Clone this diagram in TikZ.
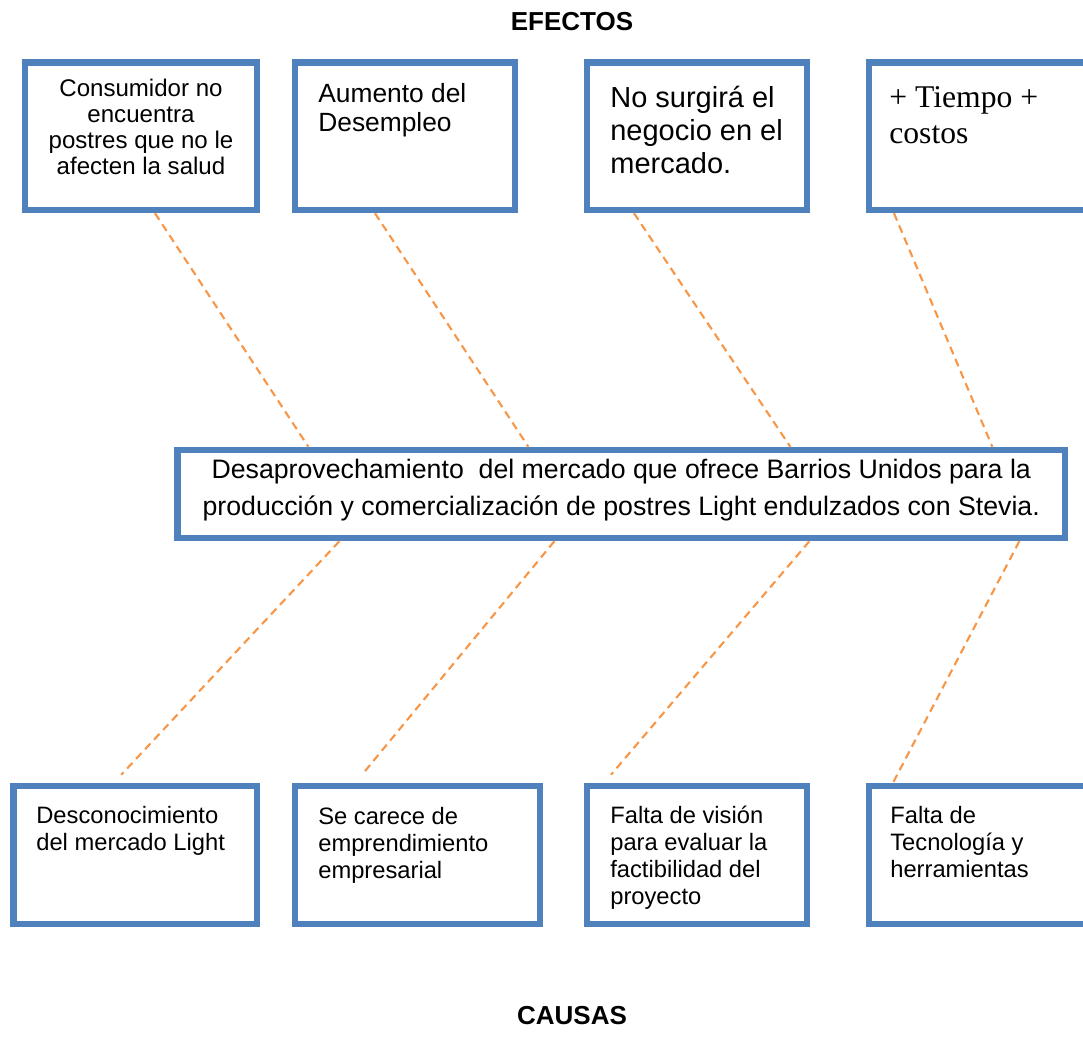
\documentclass[tikz,border=0pt]{standalone}
\usepackage{fontspec}
\setmainfont{Liberation Sans}
\newfontfamily\timesfont{Liberation Serif}
\usetikzlibrary{calc}
\definecolor{boxblue}{HTML}{4F81BD}
\definecolor{dashorange}{HTML}{F79646}

\begin{document}
\begin{tikzpicture}[x=0.02cm, y=-0.02cm,
  box/.style={draw=boxblue, line width=3.7pt, fill=white, inner sep=0pt},
  link/.style={draw=dashorange, line width=1.2pt, dash pattern=on 4.5pt off 3pt},
  txt/.style={anchor=north west, inner sep=0pt, align=left},
  title/.style={font=\fontsize{14.8}{17}\selectfont\bfseries}]
  \useasboundingbox (0,0) rectangle (1083,1055);

  \node[title] (efectos) at (572,22) {EFECTOS};
  \node[title] (causas) at (572,1016) {CAUSAS};

  \node[box, minimum width=4.64cm, minimum height=2.95cm] (e1) at (141,136.25) {};
  \node[box, minimum width=4.4cm, minimum height=2.95cm] (e2) at (405,136.25) {};
  \node[box, minimum width=4.4cm, minimum height=2.95cm] (e3) at (697,136.25) {};
  \node[box, minimum width=4.4cm, minimum height=2.95cm] (e4) at (979,136.25) {};
  \node[txt, anchor=north, align=center, font=\fontsize{13.7}{14.8}\selectfont] (e1t) at (141,79) {Consumidor no\\encuentra\\postres que no le\\afecten la salud};
  \node[txt, font=\fontsize{15}{16.5}\selectfont] (e2t) at (318,83) {Aumento del\\Desempleo};
  \node[txt, font=\fontsize{16.5}{18.8}\selectfont] (e3t) at (610,86) {No surgirá el\\negocio en el\\mercado.};
  \node[txt, font=\fontsize{18}{20.6}\timesfont] (e4t) at (889,86) {+ Tiempo +\\costos};

  \node[box, minimum width=17.75cm, minimum height=1.76cm] (p) at (621.25,494) {};
  \node[align=center, inner sep=0pt, font=\fontsize{15.2}{20.6}\selectfont] (pt) at (621.25,490) {Desaprovechamiento\ \ del mercado que ofrece Barrios Unidos para la\\producción y comercialización de postres Light endulzados con Stevia.};

  \node[box, minimum width=4.87cm, minimum height=2.76cm] (c1) at (135.25,855) {};
  \node[box, minimum width=4.9cm, minimum height=2.76cm] (c2) at (417.5,855) {};
  \node[box, minimum width=4.4cm, minimum height=2.76cm] (c3) at (697,855) {};
  \node[box, minimum width=4.4cm, minimum height=2.76cm] (c4) at (979,855) {};
  \node[txt, font=\fontsize{13.5}{15.4}\selectfont] (c1t) at (36,806) {Desconocimiento\\del mercado Light};
  \node[txt, font=\fontsize{13.5}{15.4}\selectfont] (c2t) at (318,807) {Se carece de\\emprendimiento\\empresarial};
  \node[txt, font=\fontsize{13.5}{15.4}\selectfont] (c3t) at (610,806) {Falta de visión\\para evaluar la\\factibilidad del\\proyecto};
  \node[txt, font=\fontsize{13.5}{15.4}\selectfont] (c4t) at (890,806) {Falta de\\Tecnología y\\herramientas};

  \draw[link] ($(e1.south)+(14,0)$) -- ($(p.north west)+(134,0)$);
  \draw[link] ($(e2.south)+(-30,0)$) -- ($(p.north west)+(354,0)$);
  \draw[link] ($(e3.south)+(-63,0)$) -- ($(p.north west)+(616,0)$);
  \draw[link] ($(e4.south)+(-85,0)$) -- ($(p.north west)+(818,0)$);

  \draw[link] ($(p.south west)+(165,0)$) -- ($(c1.north)+(-14,-8)$);
  \draw[link] ($(p.south west)+(380,0)$) -- ($(c2.north)+(-55.5,-8)$);
  \draw[link] ($(p.south west)+(635,0)$) -- ($(c3.north)+(-86,-8)$);
  \draw[link] ($(p.south west)+(845,0)$) -- ($(c4.north)+(-86,0)$);
\end{tikzpicture}
\end{document}
